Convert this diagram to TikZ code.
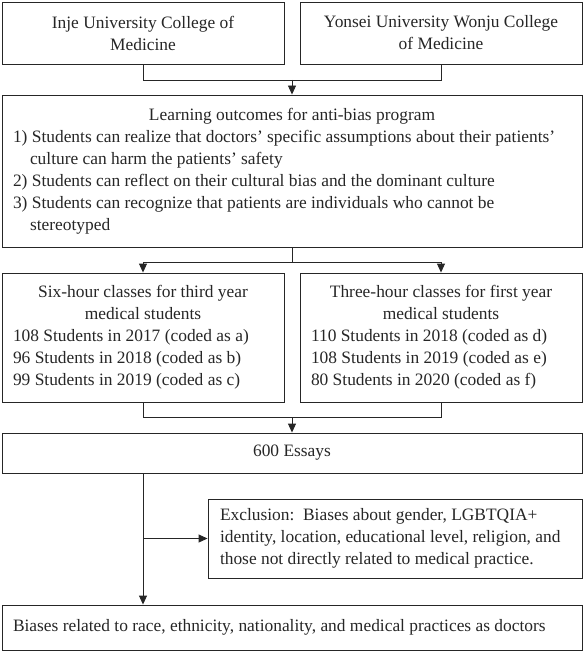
\documentclass[tikz,border=0pt]{standalone}
\usepackage{fontspec}
\setmainfont{Liberation Serif}
\usetikzlibrary{arrows.meta}
\begin{document}
\begin{tikzpicture}[x=1pt,y=-1pt,
  box/.style={draw=black!85,line width=0.9pt,inner sep=0pt,font=\fontsize{17.4}{22}\selectfont,text=black!85},
  conn/.style={draw=black!85,line width=0.9pt},
  arr/.style={conn,-{Triangle[length=9pt,width=8pt]}}]
\useasboundingbox (0,0) rectangle (584,652);
\node[box,minimum width=282,minimum height=62,align=center] (b1) at (143,33) {Inje University College of\\Medicine};
\node[box,minimum width=282,minimum height=62,align=center] (b2) at (441,33) {Yonsei University Wonju College\\of Medicine};
\node[box,minimum width=580,minimum height=152] (b3) at (292,171) {\begin{minipage}{558pt}\raggedright
\makebox[558pt]{Learning outcomes for anti-bias program}\\
1) Students can realize that doctors’ specific assumptions about their patients’\\
\hspace*{17pt}culture can harm the patients’ safety\\
2) Students can reflect on their cultural bias and the dominant culture\\
3) Students can recognize that patients are individuals who cannot be\\
\hspace*{17pt}stereotyped\end{minipage}};
\node[box,minimum width=282,minimum height=129] (b4) at (143,337.5) {\begin{minipage}{260pt}\raggedright
\makebox[260pt]{Six-hour classes for third year}\\
\makebox[260pt]{medical students}\\
108 Students in 2017 (coded as a)\\
96 Students in 2018 (coded as b)\\
99 Students in 2019 (coded as c)\end{minipage}};
\node[box,minimum width=282,minimum height=129] (b5) at (441,337.5) {\begin{minipage}{260pt}\raggedright
\makebox[260pt]{Three-hour classes for first year}\\
\makebox[260pt]{medical students}\\
110 Students in 2018 (coded as d)\\
108 Students in 2019 (coded as e)\\
80 Students in 2020 (coded as f)\end{minipage}};
\node[box,minimum width=580,minimum height=40] (b6) at (292,453) {600 Essays};
\node[box,minimum width=374,minimum height=79] (b7) at (395,538.5) {\begin{minipage}{350pt}\raggedright
Exclusion:\ \ Biases about gender, LGBTQIA+\\
identity, location, educational level, religion, and\\
those not directly related to medical practice.\end{minipage}};
\node[box,minimum width=580,minimum height=45] (b8) at (292,627.5) {\begin{minipage}{558pt}\raggedright
Biases related to race, ethnicity, nationality, and medical practices as doctors\end{minipage}};
\coordinate (j1) at (292,80);
\coordinate (j2) at (292,262);
\coordinate (j3) at (292,417);
\draw[conn] (b1.south) |- (j1);
\draw[conn] (b2.south) |- (j1);
\draw[arr] (j1) -- (b3.north);
\draw[conn] (b3.south) -- (j2);
\draw[arr] (j2) -| (b4.north);
\draw[arr] (j2) -| (b5.north);
\draw[conn] (b4.south) |- (j3);
\draw[conn] (b5.south) |- (j3);
\draw[arr] (j3) -- (b6.north);
\coordinate (s) at (b6.south -| b4.south);
\coordinate (t) at (b7.west -| b4.south);
\draw[arr] (s) -- (s |- b8.north);
\draw[arr] (t) -- (b7.west);
\end{tikzpicture}
\end{document}
